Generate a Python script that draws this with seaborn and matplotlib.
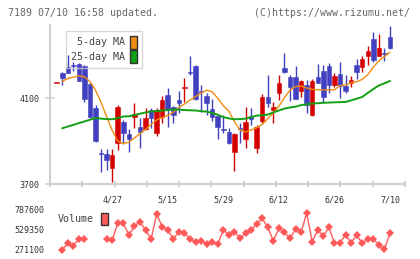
import numpy as np
import pandas as pd
import matplotlib
matplotlib.use("Agg")
import matplotlib.pyplot as plt
import seaborn as sns
from matplotlib.patches import Patch

# daily candles (yen), oldest first
opens = [4171, 4220, 4244, 4253, 4260, 4252, 4165, 4056, 3841, 3839,
         3773, 3890, 3991, 3933, 4014, 3968, 3955, 4045, 3937, 4014,
         4115, 4058, 4092, 4149, 4223, 4251, 4132, 4111, 4049, 4018,
         3956, 3941, 3851, 3959, 3909, 4018, 3870, 3996, 4108, 4045,
         4126, 4240, 4200, 4200, 4135, 4162, 4022, 4200, 4227, 4251,
         4162, 4213, 4157, 4173, 4256, 4248, 4299, 4377, 4299, 4311,
         4385]
highs = [4171, 4224, 4302, 4271, 4265, 4255, 4170, 4068, 3865, 3865,
         3862, 4068, 3999, 3955, 4077, 4007, 4053, 4053, 4053, 4111,
         4147, 4064, 4134, 4193, 4297, 4255, 4162, 4126, 4097, 4020,
         4022, 3960, 3937, 3983, 4058, 4053, 3975, 4120, 4209, 4084,
         4209, 4313, 4209, 4249, 4185, 4186, 4189, 4262, 4256, 4265,
         4220, 4271, 4209, 4204, 4282, 4297, 4344, 4408, 4400, 4334,
         4438]
lows = [4171, 4160, 4217, 4228, 4180, 4084, 4010, 3897, 3755, 3765,
        3711, 3860, 3885, 3850, 3960, 3867, 3952, 3960, 3926, 3983,
        3965, 3986, 4033, 4084, 4209, 4094, 4038, 4022, 3996, 3909,
        3937, 3887, 3762, 3893, 3870, 3975, 3846, 3986, 4061, 3983,
        4092, 4220, 4089, 4098, 4108, 4033, 4018, 4170, 4084, 4123,
        4155, 4103, 4126, 4151, 4190, 4224, 4255, 4271, 4297, 4276,
        4332]
closes = [4171, 4196, 4220, 4251, 4182, 4097, 4014, 3902, 3839, 3811,
          3835, 4058, 3940, 3909, 4025, 3944, 4010, 4007, 4045, 4092,
          4049, 4022, 4080, 4153, 4220, 4096, 4130, 4080, 4012, 3965,
          3954, 3893, 3933, 3957, 3988, 4002, 3968, 4108, 4080, 4058,
          4173, 4224, 4155, 4098, 4180, 4069, 4180, 4173, 4108, 4162,
          4204, 4159, 4134, 4186, 4224, 4283, 4321, 4279, 4334, 4309,
          4335]

ma5 = [np.nan, 4178, 4193, 4198, 4205, 4200, 4178, 4137, 4080, 4014,
       3950, 3900, 3889, 3895, 3915, 3935, 3955, 3978, 3999, 4010,
       4020, 4035, 4058, 4073, 4092, 4108, 4125, 4138, 4130, 4100,
       4065, 4040, 3990, 3952, 3943, 3952, 3962, 3978, 4005, 4033,
       4063, 4103, 4138, 4155, 4157, 4148, 4142, 4140, 4139, 4139,
       4140, 4159, 4162, 4172, 4177, 4188, 4210, 4245, 4275, 4295,
       4315]
ma25 = [np.nan, 3960, 3968, 3976, 3984, 3992, 4000, 4008, 4005, 4003,
        4002, 4008, 4015, 4016, 4022, 4028, 4034, 4038, 4040, 4043,
        4045, 4048, 4047, 4045, 4044, 4043, 4040, 4038, 4031, 4023,
        4012, 4006, 4002, 4003, 4005, 4012, 4019, 4021, 4024, 4034,
        4043, 4052, 4057, 4061, 4068, 4072, 4075, 4077, 4079, 4080,
        4081, 4082, 4083, 4090, 4098, 4106, 4125, 4143, 4160, 4170,
        4181]

volume = [np.nan, 265000, 348000, 320000, 405000, 402000, np.nan, np.nan, np.nan, 400000,
          391000, 607000, 607000, 455700, 572000, 627500, 520300, 404000, 723000, 563000,
          520000, 404000, 498000, 477000, 404000, 361500, 378000, 335700, 361500, 339500,
          520000, 455700, 498000, 413000, 477000, 520000, 598000, 671000, 555000, 382000,
          541000, 490000, 413000, 533000, 490000, 736000, 369000, 520000, 443000, 555000,
          348600, 356000, 455700, 356000, 455700, 348600, 404000, 404000, 326500, 271100,
          477000]

date_labels = ['4/27', '5/15', '5/29', '6/12', '6/26', '7/10']
price_ticks = [3700, 4100]
volume_ticks = [271100, 529350, 787600]

UP = '#d40000'
DOWN = '#4040c0'
MA5_COLOR = '#f08c10'
MA25_COLOR = '#12a012'
VOL_COLOR = '#ff5a5a'
AXIS_GRAY = '#d0d0d0'
TEXT = '#333333'
MONO = 'DejaVu Sans Mono'

df = pd.DataFrame({'open': opens, 'high': highs, 'low': lows, 'close': closes,
                   'ma5': ma5, 'ma25': ma25, 'volume': volume})
df['day'] = np.arange(len(df))
df['up'] = df['close'] >= df['open']
# separate runs so the volume line breaks where data is missing
df['run'] = df['volume'].isna().cumsum()

sns.set_style("white")
plt.rcParams['font.family'] = [MONO, 'DejaVu Sans']

fig = plt.figure(figsize=(4.2, 2.59), dpi=100)
W, H = 420, 259
ax = fig.add_axes([50 / W, 1 - 184 / H, 355 / W, 159 / H])
axv = fig.add_axes([50 / W, 1 - 253 / H, 355 / W, 48 / H])

# candles
colors = np.where(df['up'], UP, DOWN)
ax.vlines(df['day'], df['low'], df['high'], colors=colors, lw=1.0, zorder=2)
body_lo = df[['open', 'close']].min(axis=1)
body_h = (df['close'] - df['open']).abs().clip(lower=4)
ax.bar(df['day'], body_h, bottom=body_lo, width=0.82, color=colors,
       edgecolor=colors, linewidth=0.4, zorder=3)

sns.lineplot(data=df, x='day', y='ma5', ax=ax, color=MA5_COLOR, lw=1.0, zorder=4)
sns.lineplot(data=df, x='day', y='ma25', ax=ax, color=MA25_COLOR, lw=1.4, zorder=4)

xmin, xmax = -1.2, 62.7
ax.set_xlim(xmin, xmax)
ax.set_ylim(3700, 4442)
ax.set_xlabel('')
ax.set_ylabel('')

for s in ['top', 'right']:
    ax.spines[s].set_visible(False)
for s in ['left', 'bottom']:
    ax.spines[s].set_color(AXIS_GRAY)
    ax.spines[s].set_linewidth(1.5)

ax.set_xticks(np.linspace(xmin, xmax, 12))
ax.set_xticklabels([])
ax.tick_params(axis='x', which='major', direction='inout', length=5, width=1.5,
               color=AXIS_GRAY, bottom=True)
label_days = [10 * (k + 1) for k in range(len(date_labels))]
ax.set_xticks(label_days, minor=True)
ax.set_xticklabels(date_labels, minor=True)
ax.tick_params(axis='x', which='minor', length=0, pad=8, labelsize=6, labelcolor=TEXT)

ax.set_yticks(price_ticks)
ax.set_yticklabels([str(v) for v in price_ticks])
ax.tick_params(axis='y', direction='inout', length=7, width=1.2, color=AXIS_GRAY,
               pad=4, labelsize=6, labelcolor=TEXT, left=True)

leg = ax.legend(handles=[Patch(facecolor=MA5_COLOR, edgecolor='#333333', lw=1),
                         Patch(facecolor=MA25_COLOR, edgecolor='#333333', lw=1)],
                labels=['5-day MA', '25-day MA'], markerfirst=False,
                loc='upper left', bbox_to_anchor=(0.044, 0.964), borderaxespad=0,
                handlelength=0.7, handleheight=1.6, handletextpad=0.5,
                labelspacing=0.15, borderpad=0.5, fancybox=False,
                edgecolor='#cccccc', prop={'family': MONO, 'size': 7.2})
leg.get_frame().set_linewidth(1.0)
leg.get_frame().set_facecolor('none')
for t in leg.get_texts():
    t.set_color('#444444')

# volume panel
sns.lineplot(data=df.dropna(subset=['volume']), x='day', y='volume', units='run',
             estimator=None, ax=axv, color=VOL_COLOR, lw=1.0, marker='D',
             markersize=4.5, markeredgewidth=0)
axv.set_xlim(xmin, xmax)
axv.set_ylim(223300, 843100)
axv.set_xlabel('')
axv.set_ylabel('')
axv.set_xticks([])
axv.set_yticks(volume_ticks)
axv.set_yticklabels([str(v) for v in volume_ticks])
axv.tick_params(axis='y', length=0, pad=4, labelsize=6, labelcolor=TEXT)
for s in axv.spines.values():
    s.set_visible(False)

vleg = axv.legend(handles=[Patch(facecolor=VOL_COLOR, edgecolor='#333333', lw=1)],
                  labels=['Volume'], markerfirst=False, loc='upper left',
                  bbox_to_anchor=(0.0225, 0.833), borderaxespad=0, borderpad=0,
                  handlelength=0.7, handleheight=1.5, handletextpad=0.7,
                  frameon=False, prop={'family': MONO, 'size': 7.2})
for t in vleg.get_texts():
    t.set_color('#444444')

fig.text(8 / W, 1 - 12.5 / H, '7189 07/10 16:58 updated.', fontsize=7.1,
         color='#666666', family=MONO, va='center', ha='left')
fig.text(410 / W, 1 - 12.5 / H, '(C)https://www.rizumu.net/', fontsize=7.1,
         color='#666666', family=MONO, va='center', ha='right')

fig.savefig('out.png', dpi=100, facecolor='white')
